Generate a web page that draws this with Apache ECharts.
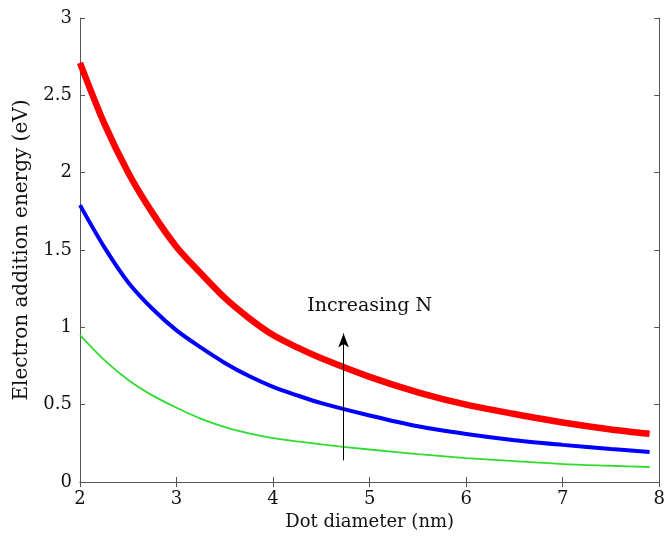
<!DOCTYPE html>
<html>
<head>
<meta charset="utf-8">
<script src="https://cdn.jsdelivr.net/npm/echarts@6/dist/echarts.min.js"></script>
<style>
  html, body { margin: 0; padding: 0; background: #fff; }
  #chart { width: 668px; height: 537px; }
</style>
</head>
<body>
<div id="chart"></div>
<script>
// dot diameter (nm)
const diameters = [2, 2.25, 2.5, 2.75, 3, 3.25, 3.5, 3.75, 4, 4.25, 4.5, 5, 5.5, 6, 6.5, 7, 7.5, 7.9];
// electron addition energy (eV), one curve per N
const energyRed = [2.71, 2.32, 2.0, 1.74, 1.52, 1.35, 1.19, 1.06, 0.95, 0.87, 0.80, 0.68, 0.58, 0.50, 0.44, 0.385, 0.34, 0.312];
const energyBlue = [1.79, 1.52, 1.29, 1.12, 0.98, 0.87, 0.77, 0.685, 0.615, 0.56, 0.51, 0.43, 0.36, 0.31, 0.27, 0.24, 0.213, 0.194];
const energyGreen = [0.95, 0.79, 0.66, 0.56, 0.48, 0.41, 0.355, 0.315, 0.284, 0.262, 0.243, 0.21, 0.18, 0.155, 0.135, 0.116, 0.105, 0.097];

// annotation: arrow and label "Increasing N"
const arrowFrom = [4.73, 0.14];
const arrowTo = [4.73, 0.96];
const labelAt = [5.0, 1.14];

const font = 'DejaVu Serif';
const pairs = ys => diameters.map((d, i) => [d, ys[i]]);

const chart = echarts.init(document.getElementById('chart'));

const frameAxis = {
    axisLine: { show: true, lineStyle: { color: '#555', width: 1 } },
    axisTick: { show: true, inside: true, length: 5, lineStyle: { color: '#555' } },
    splitLine: { show: false }
};

const curve = {
    type: 'line', smooth: 0.3, showSymbol: false
};

chart.setOption({
    animation: false,
    grid: { left: 80, right: 1, top: 18, bottom: 55 },
    xAxis: [{
        type: 'value', min: 2, max: 8, interval: 1,
        name: 'Dot diameter (nm)', nameLocation: 'middle', nameGap: 31,
        nameTextStyle: { fontFamily: font, fontSize: 18, color: '#111' },
        axisLabel: { fontFamily: font, fontSize: 18, color: '#111', margin: 8 },
        ...frameAxis
    }, {
        type: 'value', min: 2, max: 8, interval: 1, position: 'top',
        axisLabel: { show: false },
        ...frameAxis
    }],
    yAxis: [{
        type: 'value', min: 0, max: 3, interval: 0.5,
        name: 'Electron addition energy (eV)', nameLocation: 'middle', nameGap: 48,
        nameTextStyle: { fontFamily: font, fontSize: 20, color: '#111' },
        axisLabel: { fontFamily: font, fontSize: 18, color: '#111', margin: 8 },
        ...frameAxis
    }, {
        type: 'value', min: 0, max: 3, interval: 0.5, position: 'right',
        axisLabel: { show: false },
        ...frameAxis
    }],
    series: [{
        ...curve, data: pairs(energyGreen),
        lineStyle: { color: '#2fdc2f', width: 1.8 }
    }, {
        ...curve, data: pairs(energyBlue),
        lineStyle: { color: '#0000ff', width: 4 }
    }, {
        ...curve, data: pairs(energyRed),
        lineStyle: { color: '#ff0000', width: 6.5 },
        markLine: {
            silent: true,
            symbol: ['none', 'arrow'], symbolSize: [8, 14],
            label: { show: false },
            lineStyle: { color: '#000', width: 1, type: 'solid' },
            data: [[{ coord: arrowFrom }, { coord: arrowTo }]]
        },
        markPoint: {
            silent: true,
            symbol: 'circle', symbolSize: 0,
            label: {
                show: true, formatter: 'Increasing N', position: 'inside',
                fontFamily: font, fontSize: 19, color: '#111'
            },
            data: [{ coord: labelAt }]
        }
    }]
});
</script>
</body>
</html>
